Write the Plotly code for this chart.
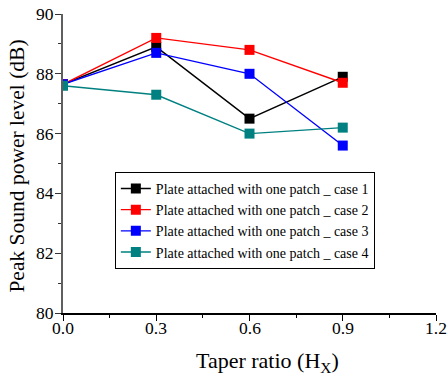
import plotly.graph_objects as go

taper = [0.0, 0.3, 0.6, 0.9]
case1 = [87.65, 88.9, 86.5, 87.9]
case2 = [87.65, 89.2, 88.8, 87.7]
case3 = [87.65, 88.7, 88.0, 85.6]
case4 = [87.6, 87.3, 86.0, 86.2]

names = [
    "Plate attached with one patch _ case 1",
    "Plate attached with one patch _ case 2",
    "Plate attached with one patch _ case 3",
    "Plate attached with one patch _ case 4",
]
colors = ["#000000", "#ff0000", "#0000ff", "#008080"]
series = [case1, case2, case3, case4]

x_ticks = [0.0, 0.3, 0.6, 0.9, 1.2]
x_ticktext = ["0.0", "0.3", "0.6", "0.9", "1.2"]
y_ticks = [80, 82, 84, 86, 88, 90]
y_ticktext = ["80", "82", "84", "86", "88", "90"]

fig = go.Figure()
for name, col, vals in zip(names, colors, series):
    fig.add_trace(go.Scatter(
        x=taper, y=vals, name=name, mode="lines+markers",
        line=dict(color=col, width=1.4),
        marker=dict(symbol="square", size=10, color=col,
                    line=dict(width=0)),
    ))

serif = "Liberation Serif"
tick_font = dict(family=serif, size=17.5, color="#000000")
fig.update_layout(
    width=448, height=379,
    margin=dict(l=63, r=12, t=14, b=66, autoexpand=False),
    paper_bgcolor="white", plot_bgcolor="white",
    font=dict(family=serif, color="#000000"),
    showlegend=True,
    legend=dict(
        x=0.139, y=0.472, xanchor="left", yanchor="top",
        bgcolor="white", bordercolor="#000000", borderwidth=1,
        font=dict(family=serif, size=14, color="#000000"),
        tracegroupgap=0, itemwidth=30,
    ),
)
fig.update_xaxes(
    range=[0, 1.2], tickvals=x_ticks, showticklabels=False,
    showgrid=False, zeroline=False, automargin=False,
    showline=True, linecolor="#000000", linewidth=1.5,
    ticks="outside", ticklen=6, tickwidth=1.2, tickcolor="#000000",
    minor=dict(ticks="outside", tickvals=[0.15, 0.45, 0.75, 1.05],
               ticklen=3, tickwidth=1, tickcolor="#000000"),
)
fig.update_yaxes(
    range=[80, 90], tickvals=y_ticks, showticklabels=False,
    showgrid=False, zeroline=False, automargin=False,
    showline=True, linecolor="#5f5f5f", linewidth=2,
    ticks="outside", ticklen=6, tickwidth=1.2, tickcolor="#333333",
    minor=dict(ticks="outside", tickvals=[81, 83, 85, 87, 89],
               ticklen=3, tickwidth=1, tickcolor="#333333"),
)

# tick labels in the serif face, placed on the axes' own scales
for v, t in zip(x_ticks, x_ticktext):
    fig.add_annotation(
        text=t, xref="x", yref="paper", x=v, y=0,
        xanchor="center", yanchor="top", yshift=-3, showarrow=False,
        font=tick_font,
    )
for v, t in zip(y_ticks, y_ticktext):
    fig.add_annotation(
        text=t, xref="paper", yref="y", x=0, y=v,
        xanchor="right", yanchor="middle", xshift=-7, showarrow=False,
        font=tick_font,
    )

# axis titles
fig.add_annotation(
    text="Taper ratio (H<sub>X</sub>)", xref="paper", yref="paper",
    x=0.547, y=-0.11, xanchor="center", yanchor="top", showarrow=False,
    font=dict(family=serif, size=22, color="#000000"),
)
fig.add_annotation(
    text="Peak Sound power level (dB)", xref="paper", yref="paper",
    x=-0.123, y=0.49, xanchor="center", yanchor="middle", showarrow=False,
    textangle=-90, font=dict(family=serif, size=21.5, color="#000000"),
)

fig.write_html("out.html")
